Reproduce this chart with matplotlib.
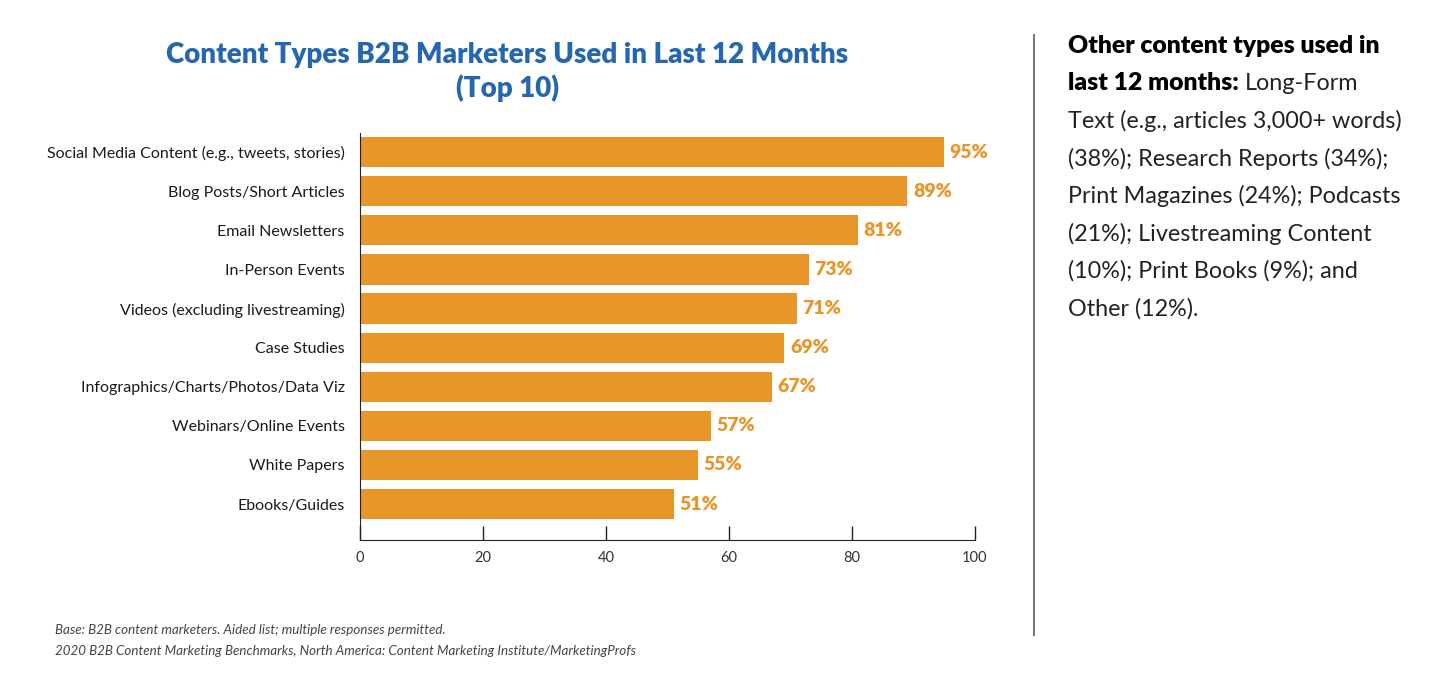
import matplotlib
matplotlib.use("Agg")
import matplotlib.pyplot as plt

# data
categories = ["Social Media Content (e.g., tweets, stories)", "Blog Posts/Short Articles",
              "Email Newsletters", "In-Person Events", "Videos (excluding livestreaming)",
              "Case Studies", "Infographics/Charts/Photos/Data Viz", "Webinars/Online Events",
              "White Papers", "Ebooks/Guides"]
values = [95, 89, 81, 73, 71, 69, 67, 57, 55, 51]
xticks = [0, 20, 40, 60, 80, 100]

side_lines = ["Text (e.g., articles 3,000+ words)", "(38%); Research Reports (34%);",
              "Print Magazines (24%); Podcasts", "(21%); Livestreaming Content",
              "(10%); Print Books (9%); and", "Other (12%)."]

orange = "#E8952A"
blue = "#2466AF"
plt.rcParams["font.family"] = ["Lato", "DejaVu Sans"]

fig = plt.figure(figsize=(14.52, 6.9), dpi=100)
ax = fig.add_axes([360 / 1452, 1 - 540 / 690, 615 / 1452, 407 / 690])

pos = list(range(len(categories)))
ax.barh(pos, values, height=0.77, color=orange)
for p, v in zip(pos, values):
    ax.text(v + 0.9, p, f"{v}%", va="center", ha="left", color=orange,
            fontsize=14, fontweight="heavy")

ax.set_xlim(0, 100)
ax.set_ylim(9.92, -0.49)
ax.set_yticks(pos)
ax.set_yticklabels(categories, fontsize=11.5, color="#1a1a1a")
ax.set_xticks(xticks)
ax.set_xticklabels([str(t) for t in xticks], fontsize=10.5, color="#333333")
ax.tick_params(axis="y", length=0, pad=11)
ax.tick_params(axis="x", direction="in", length=10, width=1, color="#222222", pad=8)
for s in ["top", "right"]:
    ax.spines[s].set_visible(False)
ax.spines["left"].set_color("#222222")
ax.spines["bottom"].set_color("#222222")

# title
fig.text(507 / 1452, 1 - 55 / 690, "Content Types B2B Marketers Used in Last 12 Months",
         ha="center", va="center", fontsize=20, fontweight="heavy", color=blue)
fig.text(507 / 1452, 1 - 88 / 690, "(Top 10)",
         ha="center", va="center", fontsize=20, fontweight="heavy", color=blue)

# footnotes
fig.text(55 / 1452, 1 - 630 / 690, "Base: B2B content marketers. Aided list; multiple responses permitted.",
         fontsize=9.6, style="italic", color="#444444", va="center")
fig.text(55 / 1452, 1 - 651 / 690,
         "2020 B2B Content Marketing Benchmarks, North America: Content Marketing Institute/MarketingProfs",
         fontsize=9.6, style="italic", color="#444444", va="center")

# separator
fig.add_artist(plt.Line2D([1034 / 1452, 1034 / 1452], [1 - 35 / 690, 1 - 635 / 690],
                          color="#777777", linewidth=1.5))

# side note
x0 = 1068 / 1452
step = 37.5
fig.text(x0, 1 - 46 / 690, "Other content types used in", fontsize=17.8, fontweight="heavy",
         color="black", va="center")
t = fig.text(x0, 1 - (46 + step) / 690, "last 12 months:", fontsize=17.8, fontweight="heavy",
             color="black", va="center")
fig.canvas.draw()
bb = t.get_window_extent(fig.canvas.get_renderer())
fig.text(bb.x1 / fig.bbox.width + 6 / 1452, 1 - (46 + step) / 690, "Long-Form", fontsize=16.8,
         fontweight="normal", color="#222222", va="center")
for i, line in enumerate(side_lines):
    fig.text(x0, 1 - (46 + step * (i + 2)) / 690, line, fontsize=16.8, fontweight="normal",
             color="#222222", va="center")

fig.savefig("out.png", dpi=100, facecolor="white")
